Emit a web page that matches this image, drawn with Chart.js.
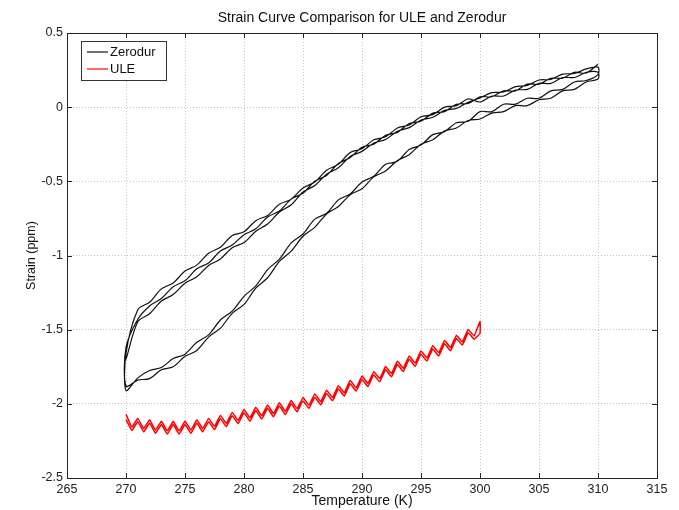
<!DOCTYPE html>
<html>
<head>
<meta charset="utf-8">
<title>Strain Curve Comparison for ULE and Zerodur</title>
<script src="https://cdn.jsdelivr.net/npm/chart.js@4/dist/chart.umd.min.js"></script>
<style>
  html, body { margin: 0; padding: 0; background: #fff; }
  #wrap { width: 679px; height: 510px; }
</style>
</head>
<body>
<div id="wrap"><canvas id="grafico" width="679" height="510"></canvas></div>
<script>
// Datos (deformacion en ppm vs temperatura en K)
const seriesNames = ["Zerodur", "ULE"];
const xTicks = [265, 270, 275, 280, 285, 290, 295, 300, 305, 310, 315];
const yTicks = [-2.5, -2, -1.5, -1, -0.5, 0, 0.5];

const zerodurTemps = [270, 271, 272, 273, 274, 275, 276, 277, 278, 279, 280, 281, 282, 283, 284, 285, 286, 287, 288, 289, 290,
  291, 292, 293, 294, 295, 296, 297, 298, 299, 300, 301, 302, 303, 304, 305, 306, 307, 308, 309, 310];

// ramas superiores (enfriamiento) de cada ciclo
const zerodurUpper1 = [-1.62, -1.43, -1.34, -1.29, -1.21, -1.17, -1.09, -1.05, -0.97, -0.93, -0.86, -0.82, -0.74, -0.70, -0.62, -0.58,
  -0.50, -0.46, -0.38, -0.34, -0.27, -0.25, -0.19, -0.17, -0.11, -0.095, -0.04, -0.03, 0.02, 0.025, 0.07, 0.07, 0.11, 0.11,
  0.155, 0.155, 0.195, 0.195, 0.235, 0.23, 0.29];
const zerodurUpper2 = [-1.66, -1.365, -1.315, -1.225, -1.185, -1.105, -1.065, -0.985, -0.945, -0.865, -0.84, -0.765, -0.73, -0.655,
  -0.62, -0.545, -0.505, -0.425, -0.385, -0.305, -0.28, -0.22, -0.20, -0.14, -0.12, -0.065, -0.05, 0.00, 0.01, 0.055, 0.035,
  0.075, 0.075, 0.115, 0.12, 0.16, 0.16, 0.20, 0.20, 0.235, 0.235];
const zerodurUpper3 = [-1.70, -1.447, -1.393, -1.307, -1.263, -1.187, -1.143, -1.067, -1.023, -0.947, -0.913, -0.837, -0.788, -0.707,
  -0.658, -0.572, -0.528, -0.452, -0.408, -0.332, -0.298, -0.242, -0.218, -0.162, -0.138, -0.087, -0.068, -0.022, -0.008, 0.033,
  0.062, 0.098, 0.102, 0.138, 0.147, 0.183, 0.187, 0.223, 0.227, 0.258, 0.27];

// ramas inferiores (calentamiento)
const zerodurLower1 = [-1.88, -1.84, -1.83, -1.77, -1.75, -1.68, -1.64, -1.55, -1.49, -1.39, -1.33, -1.22, -1.15, -1.04, -0.97, -0.87,
  -0.81, -0.72, -0.67, -0.59, -0.55, -0.47, -0.43, -0.36, -0.32, -0.25, -0.22, -0.16, -0.14, -0.09, -0.08, -0.04, -0.03, 0.01,
  0.01, 0.05, 0.06, 0.11, 0.12, 0.17, 0.19];
const zerodurLower2 = [-1.91, -1.825, -1.775, -1.755, -1.695, -1.665, -1.585, -1.535, -1.435, -1.375, -1.275, -1.205, -1.095, -1.025,
  -0.915, -0.855, -0.755, -0.715, -0.625, -0.585, -0.505, -0.465, -0.385, -0.365, -0.285, -0.255, -0.185, -0.165, -0.105, -0.095,
  -0.03, -0.03, 0.02, 0.02, 0.06, 0.06, 0.11, 0.12, 0.17, 0.18, 0.22];

const uleTemps = [270, 270.5, 271, 271.5, 272, 272.5, 273, 273.5, 274, 274.5, 275, 275.5, 276, 276.5, 277, 277.5, 278, 278.5,
  279, 279.5, 280, 280.5, 281, 281.5, 282, 282.5, 283, 283.5, 284, 284.5, 285, 285.5, 286, 286.5, 287, 287.5, 288, 288.5,
  289, 289.5, 290, 290.5, 291, 291.5, 292, 292.5, 293, 293.5, 294, 294.5, 295, 295.5, 296, 296.5, 297, 297.5, 298, 298.5,
  299, 299.5, 300];
const uleRise = [-2.07, -2.157, -2.098, -2.167, -2.108, -2.177, -2.118, -2.182, -2.118, -2.182, -2.118, -2.177, -2.108, -2.167,
  -2.098, -2.152, -2.078, -2.132, -2.058, -2.112, -2.038, -2.095, -2.023, -2.080, -2.008, -2.065, -1.993, -2.050, -1.978, -2.032,
  -1.958, -2.009, -1.933, -1.985, -1.908, -1.957, -1.878, -1.925, -1.843, -1.892, -1.813, -1.862, -1.783, -1.830, -1.748, -1.795,
  -1.713, -1.760, -1.678, -1.725, -1.643, -1.690, -1.608, -1.655, -1.573, -1.620, -1.538, -1.582, -1.498, -1.542, -1.445];
const uleReturn = [-2.105, -2.179, -2.120, -2.189, -2.130, -2.199, -2.140, -2.204, -2.140, -2.204, -2.140, -2.199, -2.130, -2.189,
  -2.120, -2.174, -2.100, -2.154, -2.080, -2.134, -2.060, -2.117, -2.045, -2.102, -2.030, -2.087, -2.015, -2.072, -2.000, -2.054,
  -1.980, -2.031, -1.955, -2.007, -1.930, -1.979, -1.900, -1.947, -1.865, -1.914, -1.835, -1.884, -1.805, -1.852, -1.770, -1.817,
  -1.735, -1.782, -1.700, -1.747, -1.665, -1.712, -1.630, -1.677, -1.595, -1.642, -1.560, -1.604, -1.520, -1.564, -1.525];

function toPoints(xs, ys) {
  return xs.map((x, i) => ({ x: x, y: ys[i] }));
}

// recorrido continuo: baja por la rama superior, sube por la inferior, y asi cada ciclo
const zerodurPath = [
  ...toPoints(zerodurTemps, zerodurUpper1).reverse(),
  ...toPoints(zerodurTemps, zerodurLower1),
  ...toPoints(zerodurTemps, zerodurUpper2).reverse(),
  ...toPoints(zerodurTemps, zerodurLower2),
  ...toPoints(zerodurTemps, zerodurUpper3).reverse()
];
const ulePath = [
  ...toPoints(uleTemps, uleRise),
  ...toPoints(uleTemps, uleReturn).reverse()
];

const colores = { Zerodur: "#111111", ULE: "#ff0000" };
const fuente = "'Liberation Sans', Arial, Helvetica, sans-serif";

// caja estilo MATLAB con marcas hacia adentro y leyenda dentro del area
const cajaMatlab = {
  id: "cajaMatlab",
  afterDraw(chart) {
    const { ctx, chartArea: { left, right, top, bottom }, scales: { x, y } } = chart;
    ctx.save();
    ctx.strokeStyle = "#262626";
    ctx.lineWidth = 1;
    ctx.strokeRect(Math.round(left) + 0.5, Math.round(top) + 0.5, Math.round(right - left), Math.round(bottom - top));
    ctx.beginPath();
    xTicks.forEach(v => {
      const px = Math.round(x.getPixelForValue(v)) + 0.5;
      ctx.moveTo(px, bottom); ctx.lineTo(px, bottom - 5);
      ctx.moveTo(px, top); ctx.lineTo(px, top + 5);
    });
    yTicks.forEach(v => {
      const py = Math.round(y.getPixelForValue(v)) + 0.5;
      ctx.moveTo(left, py); ctx.lineTo(left + 5, py);
      ctx.moveTo(right, py); ctx.lineTo(right - 5, py);
    });
    ctx.stroke();

    // leyenda
    const bx = left + 14, by = top + 8, bw = 85, bh = 39;
    ctx.fillStyle = "#fff";
    ctx.fillRect(bx, by, bw, bh);
    ctx.strokeStyle = "#333";
    ctx.strokeRect(bx + 0.5, by + 0.5, bw, bh);
    ctx.font = "13px " + fuente;
    ctx.textBaseline = "middle";
    chart.data.datasets.forEach((ds, i) => {
      const ly = by + 11 + i * 17;
      ctx.strokeStyle = ds.borderColor;
      ctx.lineWidth = 1.2;
      ctx.beginPath();
      ctx.moveTo(bx + 6, ly); ctx.lineTo(bx + 27, ly);
      ctx.stroke();
      ctx.fillStyle = "#111";
      ctx.fillText(ds.label, bx + 29, ly);
    });
    ctx.restore();
  }
};

new Chart(document.getElementById("grafico"), {
  type: "scatter",
  data: {
    datasets: [
      { label: seriesNames[0], data: zerodurPath, borderColor: colores.Zerodur, borderWidth: 1.2, tension: 0.3 },
      { label: seriesNames[1], data: ulePath, borderColor: colores.ULE, borderWidth: 1.5, tension: 0.1 }
    ]
  },
  options: {
    responsive: false,
    animation: false,
    showLine: true,
    elements: {
      point: { radius: 0, hoverRadius: 0 },
      line: { fill: false }
    },
    layout: { padding: { left: 0, right: 22, top: 0, bottom: 0 } },
    plugins: {
      legend: { display: false },
      tooltip: { enabled: false },
      title: {
        display: true,
        fullSize: false,
        text: "Strain Curve Comparison for ULE and Zerodur",
        color: "#111",
        font: { family: fuente, size: 14, weight: "normal" },
        padding: { top: 10, bottom: 6.2 }
      }
    },
    scales: {
      x: {
        type: "linear",
        min: 265,
        max: 315,
        afterFit: s => { s.height = 32; },
        afterBuildTicks: s => { s.ticks = xTicks.map(v => ({ value: v })); },
        ticks: {
          padding: 4,
          color: "#222",
          font: { family: fuente, size: 12.5 },
          maxRotation: 0,
          callback: v => String(v)
        },
        grid: { color: "#c4c4c4", lineWidth: 1, drawTicks: false },
        border: { display: false, dash: [1, 2] },
        title: {
          display: true,
          text: "Temperature (K)",
          color: "#111",
          font: { family: fuente, size: 14 },
          padding: { top: 0, bottom: 0 }
        }
      },
      y: {
        type: "linear",
        min: -2.5,
        max: 0.5,
        afterFit: s => { s.width = 67; },
        afterBuildTicks: s => { s.ticks = yTicks.map(v => ({ value: v })); },
        ticks: {
          padding: 4,
          color: "#222",
          font: { family: fuente, size: 12.5 },
          callback: v => String(v)
        },
        grid: { color: "#c4c4c4", lineWidth: 1, drawTicks: false },
        border: { display: false, dash: [1, 2] },
        title: {
          display: true,
          text: "Strain (ppm)",
          color: "#111",
          font: { family: fuente, size: 12.5 },
          padding: { top: 24, bottom: 0 }
        }
      }
    }
  },
  plugins: [cajaMatlab]
});
</script>
</body>
</html>
